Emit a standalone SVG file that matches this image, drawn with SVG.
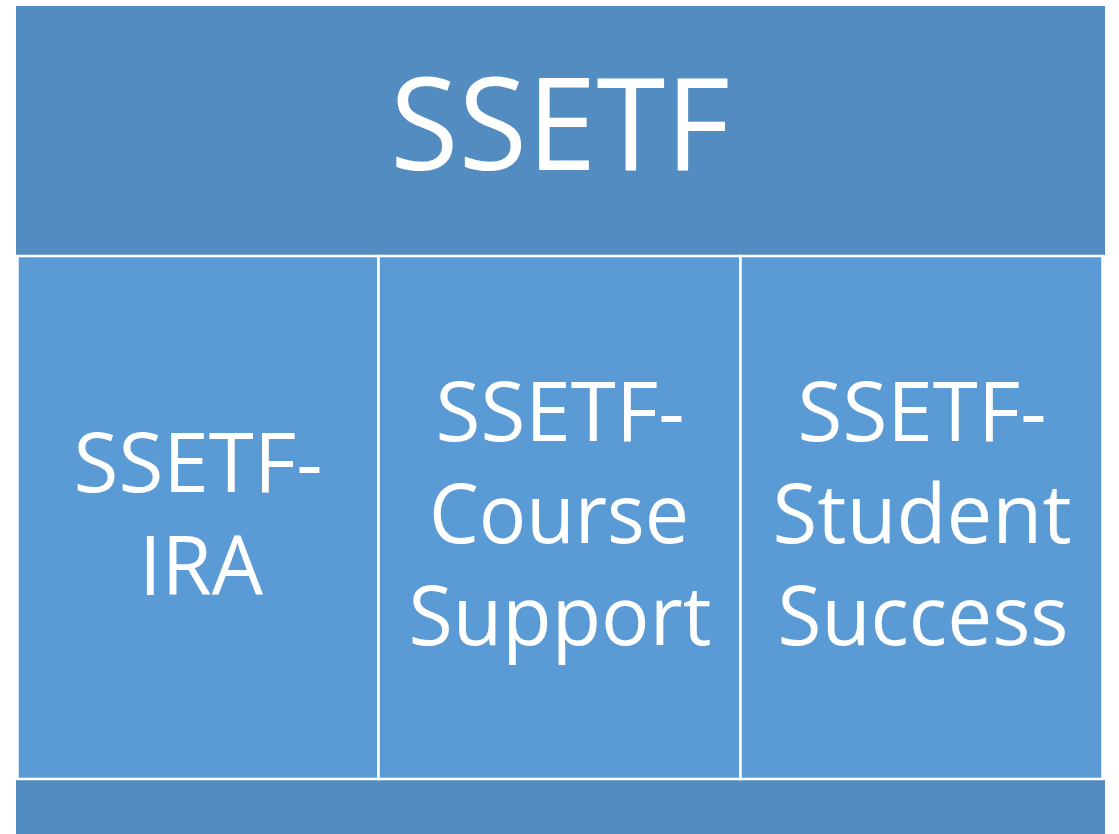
<svg xmlns="http://www.w3.org/2000/svg" width="1119" height="834" viewBox="0 0 1119 834">
<style>
.band{fill:#538CC0}
.cell{fill:#5B9BD5;stroke:#FFFFFF;stroke-width:2.5}
.t{font-family:"Open Sans","Liberation Sans",sans-serif;fill:#FFFFFF;text-anchor:middle}
.title{font-size:129px}
.lbl{font-size:83px}
</style>
<rect width="1119" height="834" fill="#FFFFFF"/>
<g id="header">
<rect class="band" x="16" y="6" width="1089" height="249"/>
<text class="t title" x="560" y="170" textLength="340" lengthAdjust="spacingAndGlyphs">SSETF</text>
</g>
<g id="footer">
<rect class="band" x="16" y="780" width="1089" height="54"/>
</g>
<g id="connectors"></g>
<g id="ira">
<rect class="cell" x="17.5" y="256" width="361" height="523"/>
<text class="t lbl" x="198" y="492" textLength="249" lengthAdjust="spacingAndGlyphs">SSETF-</text>
<text class="t lbl" x="201" y="595" textLength="124" lengthAdjust="spacingAndGlyphs">IRA</text>
</g>
<g id="course">
<rect class="cell" x="378.5" y="256" width="362" height="523"/>
<text class="t lbl" x="560" y="441" textLength="249" lengthAdjust="spacingAndGlyphs">SSETF-</text>
<text class="t lbl" x="559" y="543" textLength="260" lengthAdjust="spacingAndGlyphs">Course</text>
<text class="t lbl" x="560" y="645" textLength="303" lengthAdjust="spacingAndGlyphs">Support</text>
</g>
<g id="success">
<rect class="cell" x="740.5" y="256" width="362" height="523"/>
<text class="t lbl" x="922" y="441" textLength="249" lengthAdjust="spacingAndGlyphs">SSETF-</text>
<text class="t lbl" x="922" y="543" textLength="299" lengthAdjust="spacingAndGlyphs">Student</text>
<text class="t lbl" x="923" y="645" textLength="291" lengthAdjust="spacingAndGlyphs">Success</text>
</g>
</svg>
